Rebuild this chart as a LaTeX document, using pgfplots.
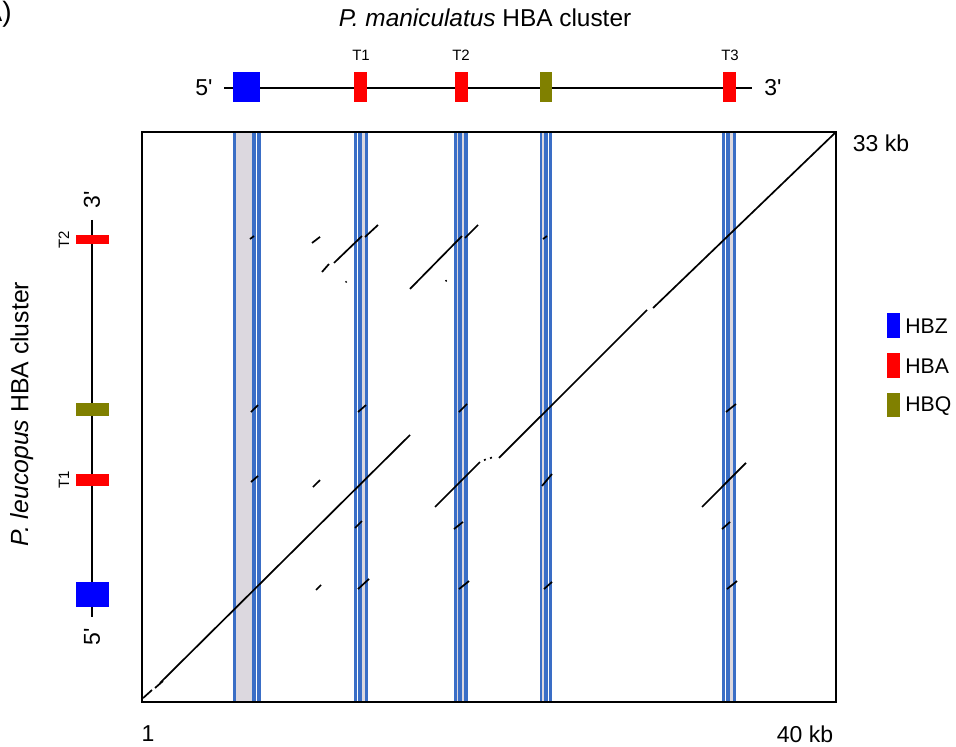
\documentclass[border=0pt]{standalone}
\usepackage{fontspec}
\setmainfont{Liberation Sans}
\usepackage{pgfplots}
\pgfplotsset{compat=1.18}
\definecolor{stripeblue}{HTML}{3A6EC6}
\definecolor{stripegrey}{HTML}{DCD8DF}
\definecolor{hbz}{HTML}{0000FF}
\definecolor{hba}{HTML}{FF0000}
\definecolor{hbq}{HTML}{808000}
\newcommand{\pr}{\textquotesingle}
\begin{document}
\begin{tikzpicture}
\begin{scope}[x=0.5pt,y=-0.5pt]
\useasboundingbox (0,0) rectangle (956,747);
% panel letter (cut off)
\node[anchor=east,inner sep=0pt,font=\fontsize{14}{16}\selectfont] at (12,14) {A)};
% title
\node[font=\fontsize{12.2}{14}\selectfont] at (485,18) {\textit{P. maniculatus} HBA cluster};
% top gene diagram
\draw[line width=0.8pt] (224,88) -- (752,88);
\node[font=\fontsize{11.5}{13}\selectfont] at (204,88) {5\pr};
\node[font=\fontsize{11.5}{13}\selectfont] at (773,88) {3\pr};
\fill[hbz] (233,72) rectangle (260,102);
\fill[hba] (354,72) rectangle (367,102);
\fill[hba] (455,72) rectangle (468,102);
\fill[hbq] (540,72) rectangle (552,102);
\fill[hba] (723,72) rectangle (736,102);
\node[font=\fontsize{7.5}{8}\selectfont] at (361,55) {T1};
\node[font=\fontsize{7.5}{8}\selectfont] at (461,55) {T2};
\node[font=\fontsize{7.5}{8}\selectfont] at (730,55) {T3};
% left gene diagram
\draw[line width=0.8pt] (92,220) -- (92,617);
\node[rotate=90,font=\fontsize{11.5}{13}\selectfont] at (92,200) {3\pr};
\node[rotate=90,font=\fontsize{11.5}{13}\selectfont] at (92,637) {5\pr};
\fill[hba] (76,235) rectangle (109,244);
\fill[hbq] (76,403) rectangle (109,416);
\fill[hba] (76,474) rectangle (109,486);
\fill[hbz] (76,582) rectangle (109,607);
\node[rotate=90,font=\fontsize{7.5}{8}\selectfont] at (64,240) {T2};
\node[rotate=90,font=\fontsize{7.5}{8}\selectfont] at (64,480) {T1};
\node[rotate=90,font=\fontsize{12.4}{14}\selectfont] at (22,414) {\textit{P. leucopus} HBA cluster};
% legend
\fill[hbz] (887,313) rectangle (900,338);
\fill[hba] (887,353) rectangle (900,378);
\fill[hbq] (887,393) rectangle (900,417);
\node[anchor=west,inner sep=0pt,font=\fontsize{10.6}{13}\selectfont] at (905,326) {HBZ};
\node[anchor=west,inner sep=0pt,font=\fontsize{10.6}{13}\selectfont] at (905,366) {HBA};
\node[anchor=west,inner sep=0pt,font=\fontsize{10.6}{13}\selectfont] at (905,406) {HBQ};
% axis end labels
\node[font=\fontsize{11.5}{13}\selectfont] at (148,734) {1};
\node[font=\fontsize{11.5}{13}\selectfont] at (805,734) {40 kb};
\node[font=\fontsize{11.5}{13}\selectfont] at (881,143) {33 kb};
\end{scope}
\begin{axis}[
  at={(71pt,-351pt)}, anchor=south west,
  scale only axis, width=347pt, height=285pt,
  xmin=1, xmax=40, ymin=1, ymax=33,
  xtick=\empty, ytick=\empty,
  axis line style={line width=1pt},
  axis on top,
  seg/.style={black, line width=0.85pt, no marks},
  sb/.style={fill=stripeblue, draw=none, no marks},
  sg/.style={fill=stripegrey, draw=none, no marks},
]
% ---- gene stripes (x positions in kb) ----
% HBZ
\addplot[sg] coordinates {(6.283,1) (7.181,1) (7.181,33) (6.283,33)} -- cycle;
\addplot[sb] coordinates {(6.140,1) (6.310,1) (6.310,33) (6.140,33)} -- cycle;
\addplot[sb] coordinates {(7.160,1) (7.425,1) (7.425,33) (7.160,33)} -- cycle;
\addplot[sb] coordinates {(7.465,1) (7.660,1) (7.660,33) (7.465,33)} -- cycle;
% T1
\addplot[sb] coordinates {(12.940,1) (13.100,1) (13.100,33) (12.940,33)} -- cycle;
\addplot[sb] coordinates {(13.135,1) (13.385,1) (13.385,33) (13.135,33)} -- cycle;
\addplot[sg] coordinates {(13.385,1) (13.510,1) (13.510,33) (13.385,33)} -- cycle;
\addplot[sb] coordinates {(13.510,1) (13.725,1) (13.725,33) (13.510,33)} -- cycle;
% T2
\addplot[sb] coordinates {(18.560,1) (18.720,1) (18.720,33) (18.560,33)} -- cycle;
\addplot[sg] coordinates {(18.720,1) (18.755,1) (18.755,33) (18.720,33)} -- cycle;
\addplot[sb] coordinates {(18.755,1) (19.000,1) (19.000,33) (18.755,33)} -- cycle;
\addplot[sg] coordinates {(19.000,1) (19.080,1) (19.080,33) (19.000,33)} -- cycle;
\addplot[sb] coordinates {(19.080,1) (19.345,1) (19.345,33) (19.080,33)} -- cycle;
% HBQ
\addplot[sb] coordinates {(23.340,1) (23.495,1) (23.495,33) (23.340,33)} -- cycle;
\addplot[sg] coordinates {(23.495,1) (23.580,1) (23.580,33) (23.495,33)} -- cycle;
\addplot[sb] coordinates {(23.580,1) (23.830,1) (23.830,33) (23.580,33)} -- cycle;
\addplot[sb] coordinates {(23.865,1) (24.065,1) (24.065,33) (23.865,33)} -- cycle;
% T3
\addplot[sb] coordinates {(33.620,1) (33.780,1) (33.780,33) (33.620,33)} -- cycle;
\addplot[sb] coordinates {(33.815,1) (34.065,1) (34.065,33) (33.815,33)} -- cycle;
\addplot[sg] coordinates {(34.065,1) (34.190,1) (34.190,33) (34.065,33)} -- cycle;
\addplot[sb] coordinates {(34.190,1) (34.405,1) (34.405,33) (34.190,33)} -- cycle;
% ---- dot-plot alignments ----
% main diagonal
\addplot[seg] coordinates {(1.06,1.22) (1.562,1.674)};
\addplot[seg] coordinates {(1.731,1.786) (2.180,2.179)};
\addplot[seg] coordinates {(2.012,2.067) (16.06,15.99)};
\addplot[seg] coordinates {(21.06,14.70) (29.38,23.01)};
\addplot[seg] coordinates {(29.72,23.12) (40,33)};
% T2 row
\addplot[seg] coordinates {(7.069,26.99) (7.294,27.16)};
\addplot[seg] coordinates {(10.553,26.77) (11.003,27.11)};
\addplot[seg] coordinates {(11.790,25.65) (13.363,27.16)};
\addplot[seg] coordinates {(13.531,27.105) (14.262,27.78)};
\addplot[seg] coordinates {(11.115,25.14) (11.509,25.59)};
\addplot[seg] coordinates {(12.44,24.56) (12.50,24.61)};
\addplot[seg] coordinates {(16.06,24.19) (18.983,27.16)};
\addplot[seg] coordinates {(19.151,27.05) (19.882,27.78)};
\addplot[seg] coordinates {(18.06,24.62) (18.12,24.67)};
\addplot[seg] coordinates {(23.534,26.99) (23.759,27.16)};
% HBQ row
\addplot[seg] coordinates {(7.125,17.28) (7.519,17.67)};
\addplot[seg] coordinates {(13.138,17.28) (13.588,17.67)};
\addplot[seg] coordinates {(18.814,17.28) (19.264,17.73)};
\addplot[seg] coordinates {(33.818,17.28) (34.380,17.73)};
% T1 row
\addplot[seg] coordinates {(7.125,13.35) (7.519,13.69)};
\addplot[seg] coordinates {(10.609,13.07) (11.003,13.46)};
\addplot[seg] coordinates {(17.47,11.95) (19.99,14.47)};
\addplot[seg] coordinates {(20.22,14.57) (20.32,14.62)};
\addplot[seg] coordinates {(20.56,14.68) (20.66,14.73)};
\addplot[seg] coordinates {(23.478,13.13) (24.040,13.80)};
\addplot[seg] coordinates {(32.47,11.95) (34.94,14.42)};
% lower ticks
\addplot[seg] coordinates {(12.970,10.77) (13.363,11.16)};
\addplot[seg] coordinates {(18.533,10.71) (19.039,11.11)};
\addplot[seg] coordinates {(33.594,10.71) (34.044,11.11)};
% HBZ row
\addplot[seg] coordinates {(10.778,7.29) (11.059,7.57)};
\addplot[seg] coordinates {(13.138,7.34) (13.757,7.91)};
\addplot[seg] coordinates {(18.814,7.34) (19.376,7.79)};
\addplot[seg] coordinates {(23.591,7.34) (24.040,7.74)};
\addplot[seg] coordinates {(33.875,7.34) (34.437,7.79)};
\end{axis}
\end{tikzpicture}
\end{document}
